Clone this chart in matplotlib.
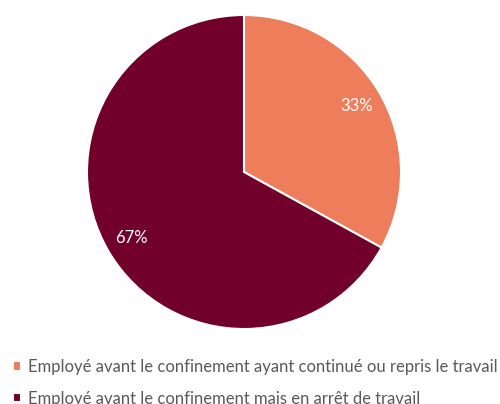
import matplotlib.pyplot as plt

labels = [
    "Employé avant le confinement ayant continué ou repris le travail",
    "Employé avant le confinement mais en arrêt de travail",
]
shares = [33, 67]
colors = ['#ED7D5B', '#71002A']

fig = plt.figure(figsize=(5.0, 4.04), dpi=100)

# pie centred around (244, 172) px, radius ~157 px
ax = fig.add_axes([87 / 500, 75 / 404, 314 / 500, 314 / 404])
wedges, texts, autotexts = ax.pie(
    shares, colors=colors, startangle=90, counterclock=False,
    autopct='%1.0f%%', pctdistance=0.83, radius=1.0,
    wedgeprops=dict(edgecolor='white', linewidth=1.5),
    textprops=dict(color='white', fontsize=12, family='Lato'),
)
ax.set_aspect('equal')
ax.set_xlim(-1, 1)
ax.set_ylim(-1, 1)

fig.legend(
    wedges, labels, loc='upper left', bbox_to_anchor=(0.025, 0.112),
    frameon=False, handlelength=0.5, handleheight=0.5, handletextpad=0.45,
    labelspacing=0.95, borderpad=0, borderaxespad=0,
    prop=dict(family='Lato', size=12), labelcolor='#595959',
)

fig.savefig('out.png', dpi=100)
